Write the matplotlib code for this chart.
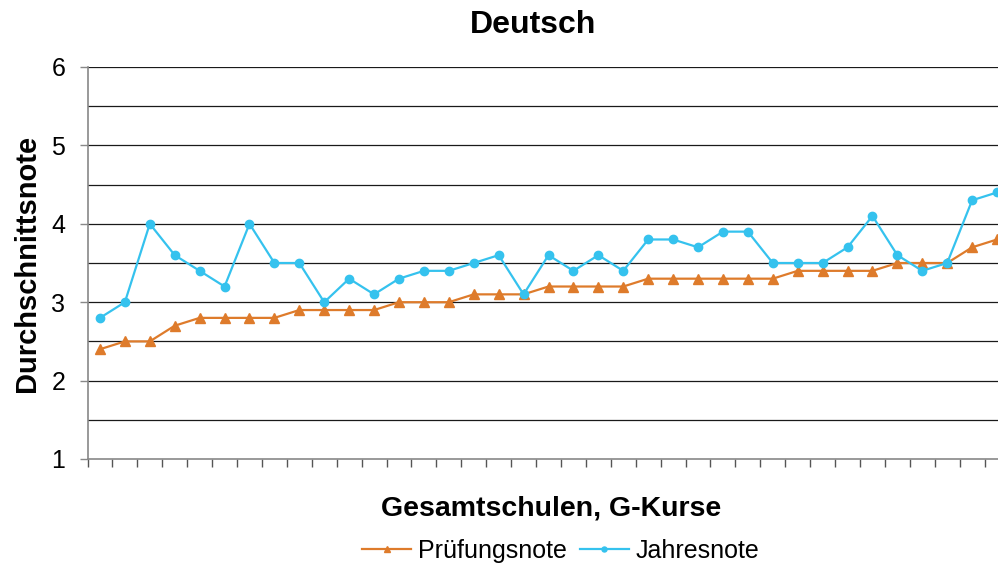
import matplotlib
matplotlib.use("Agg")
import matplotlib.pyplot as plt
import numpy as np

plt.rcParams['font.family'] = ['Liberation Sans', 'DejaVu Sans']

pruefungsnote = [2.4, 2.5, 2.5, 2.7, 2.8, 2.8, 2.8, 2.8, 2.9, 2.9, 2.9, 2.9, 3.0, 3.0, 3.0,
                 3.1, 3.1, 3.1, 3.2, 3.2, 3.2, 3.2, 3.3, 3.3, 3.3, 3.3, 3.3, 3.3, 3.4, 3.4,
                 3.4, 3.4, 3.5, 3.5, 3.5, 3.7, 3.8]
jahresnote = [2.8, 3.0, 4.0, 3.6, 3.4, 3.2, 4.0, 3.5, 3.5, 3.0, 3.3, 3.1, 3.3, 3.4, 3.4,
              3.5, 3.6, 3.1, 3.6, 3.4, 3.6, 3.4, 3.8, 3.8, 3.7, 3.9, 3.9, 3.5, 3.5, 3.5,
              3.7, 4.1, 3.6, 3.4, 3.5, 4.3, 4.4]
y_ticks = [1, 2, 3, 4, 5, 6]

title = "Deutsch"
xlabel = "Gesamtschulen, G-Kurse"
ylabel = "Durchschnittsnote"
labels = ["Prüfungsnote", "Jahresnote"]

orange = "#DE7B2B"
blue = "#35C2EE"

fig = plt.figure(figsize=(9.98, 5.68), dpi=100)
W, H = 998, 568
left, right, top, bottom = 87.5, 1009.5, 67, 459
ax = fig.add_axes([left / W, (H - bottom) / H, (right - left) / W, (bottom - top) / H])

x = np.arange(len(pruefungsnote))
ax.plot(x, pruefungsnote, color=orange, lw=1.6, marker='^', markersize=7.5, label=labels[0], zorder=3)
ax.plot(x, jahresnote, color=blue, lw=1.6, marker='o', markersize=6, label=labels[1], zorder=4)

ax.set_xlim(-0.5, len(x) - 0.5)
ax.set_ylim(1, 6)
for g in np.arange(1.5, 6.01, 0.5):
    ax.axhline(g, color='#1a1a1a', lw=0.9, zorder=1)

ax.set_yticks(y_ticks)
ax.set_yticklabels([str(v) for v in y_ticks], fontsize=18)
ax.set_xticks(np.arange(-0.5, len(x), 1.0))
ax.set_xticklabels([])
ax.tick_params(axis='y', direction='out', length=6, width=1, color='#888888', pad=10)
ax.tick_params(axis='x', direction='out', length=6, width=1, color='#555555')

for s in ['top', 'right']:
    ax.spines[s].set_visible(False)
ax.spines['left'].set_color('#888888')
ax.spines['bottom'].set_color('#888888')
ax.spines['left'].set_linewidth(1.2)
ax.spines['bottom'].set_linewidth(1.2)

fig.text(533 / W, 1 - 25 / H, title, fontsize=23, fontweight='bold', ha='center', va='center')
fig.text(551 / W, 1 - 508 / H, xlabel, fontsize=20.5, fontweight='bold', ha='center', va='center')
fig.text(27 / W, 1 - 263 / H, ylabel, fontsize=21, fontweight='bold', ha='center', va='center', rotation=90)

h, l = ax.get_legend_handles_labels()
leg = fig.legend(h, l, loc='center', bbox_to_anchor=(561 / W, 1 - 551 / H), ncol=2, frameon=False,
                 fontsize=18, handlelength=1.95, columnspacing=0.5, handletextpad=0.3, markerscale=0.6)

fig.savefig("out.png", dpi=100)
